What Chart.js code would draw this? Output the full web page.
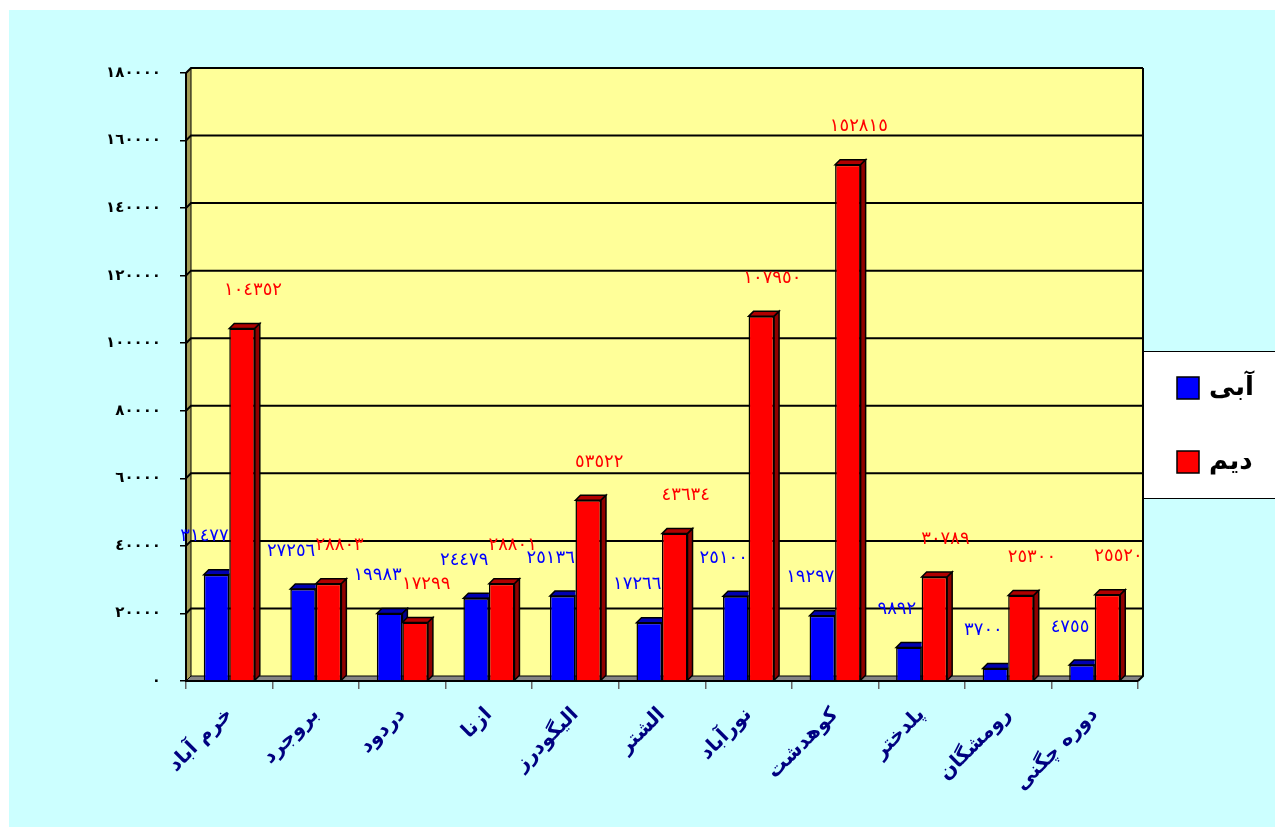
<!DOCTYPE html>
<html>
<head>
<meta charset="utf-8">
<script src="https://cdn.jsdelivr.net/npm/chart.js@4.4.0/dist/chart.umd.min.js"></script>
<style>
  html, body { margin: 0; padding: 0; background: #fff; }
  #wrap { position: absolute; left: 9px; top: 10px; width: 1266px; height: 817px; background: #ccffff; overflow: hidden; }
  canvas { display: block; }
</style>
</head>
<body>
<div id="wrap"><canvas id="chart-tolid" width="1266" height="817"></canvas></div>
<script>
// شهرستان‌ها و مقادیر (آبی / دیم)
const shahrestanha = ['خرم آباد', 'بروجرد', 'دردود', 'ازنا', 'الیگودرز', 'الشتر', 'نورآباد', 'کوهدشت', 'پلدختر', 'رومشگان', 'دوره چگنی'];
const abi = [31477, 27256, 19983, 24479, 25136, 17266, 25100, 19297, 9892, 3700, 4755];
const deym = [104352, 28803, 17299, 28801, 53522, 43634, 107950, 152815, 30789, 25300, 25520];
const seriesNames = ['آبی', 'دیم'];
const yTicks = [0, 20000, 40000, 60000, 80000, 100000, 120000, 140000, 160000, 180000];

const FONT = "'DejaVu Sans', sans-serif";
const DEPTH = 5;
const faceColors = [
    { front: '#0000ff', top: '#0000b0', side: '#000090' },
    { front: '#ff0000', top: '#b00000', side: '#900000' }
];

function faDigits(n) {
    return String(n).replace(/\d/g, d => '٠١٢٣٤٥٦٧٨٩'[d]);
}

function drawPoly(ctx, pts, fill) {
    ctx.beginPath();
    ctx.moveTo(pts[0][0], pts[0][1]);
    for (let i = 1; i < pts.length; i++) ctx.lineTo(pts[i][0], pts[i][1]);
    ctx.closePath();
    ctx.fillStyle = fill;
    ctx.fill();
    ctx.stroke();
}

function drawBox(ctx, bar, colors) {
    const { x, y, base, width } = bar.getProps(['x', 'y', 'base', 'width'], true);
    const l = x - width / 2, r = x + width / 2, d = DEPTH;
    drawPoly(ctx, [[l, y], [l + d, y - d], [r + d, y - d], [r, y]], colors.top);
    drawPoly(ctx, [[r, y], [r + d, y - d], [r + d, base - d], [r, base]], colors.side);
}

// دیوار پشتی، دیوار چپ، کف و خطوط شبکه
const walls3d = {
    id: 'walls3d',
    beforeDatasetsDraw(chart) {
        const { ctx, chartArea: a, scales: { y } } = chart;
        const d = DEPTH;
        ctx.save();
        ctx.lineJoin = 'miter';
        ctx.strokeStyle = '#000';
        ctx.lineWidth = 1;
        ctx.fillStyle = '#ffff99';
        ctx.fillRect(a.left + d, a.top - d, a.right - a.left, a.bottom - a.top);
        drawPoly(ctx, [[a.left, a.top], [a.left + d, a.top - d], [a.left + d, a.bottom - d], [a.left, a.bottom]], '#a39d55');
        drawPoly(ctx, [[a.left, a.bottom], [a.left + d, a.bottom - d], [a.right + d, a.bottom - d], [a.right, a.bottom]], '#858585');

        ctx.lineWidth = 2;
        yTicks.forEach(v => {
            if (v === 0) return;
            const py = y.getPixelForValue(v);
            ctx.beginPath();
            ctx.moveTo(a.left, py);
            ctx.lineTo(a.left + d, py - d);
            ctx.lineTo(a.right + d, py - d);
            ctx.stroke();
        });
        ctx.beginPath();
        ctx.moveTo(a.right + d, a.top - d);
        ctx.lineTo(a.right + d, a.bottom - d);
        ctx.lineTo(a.right, a.bottom);
        ctx.stroke();
        ctx.beginPath();
        ctx.moveTo(a.left, a.top);
        ctx.lineTo(a.left, a.bottom);
        ctx.lineTo(a.right, a.bottom);
        ctx.stroke();
        ctx.restore();
    },
    afterDatasetsDraw(chart) {
        const { ctx } = chart;
        const blue = chart.getDatasetMeta(0).data;
        const red = chart.getDatasetMeta(1).data;
        ctx.save();
        ctx.strokeStyle = '#000';
        ctx.lineWidth = 1.5;
        blue.forEach((b, i) => {
            const rb = red[i].getProps(['x', 'y', 'base', 'width'], true);
            ctx.save();
            ctx.beginPath();
            ctx.rect(0, 0, chart.width, chart.height);
            ctx.rect(rb.x - rb.width / 2, rb.y, rb.width, rb.base - rb.y);
            ctx.clip('evenodd');
            drawBox(ctx, b, faceColors[0]);
            ctx.restore();
            drawBox(ctx, red[i], faceColors[1]);
        });

        // برچسب مقادیر
        ctx.font = '18px ' + FONT;
        ctx.textAlign = 'center';
        ctx.textBaseline = 'middle';
        chart.data.datasets.forEach((ds, di) => {
            chart.getDatasetMeta(di).data.forEach((bar, i) => {
                ctx.fillStyle = ds.labelColor;
                ctx.fillText(faDigits(ds.data[i]), bar.x + ds.labelShift, bar.y - 38);
            });
        });
        ctx.restore();
    },
    afterDraw(chart) {
        const { ctx, chartArea: a } = chart;
        const left = a.right + DEPTH;
        const top = 341, h = 147;
        ctx.save();
        ctx.fillStyle = '#fff';
        ctx.fillRect(left, top, chart.width - left + 2, h);
        ctx.strokeStyle = '#000';
        ctx.lineWidth = 1;
        ctx.strokeRect(left + 0.5, top + 0.5, chart.width - left + 2, h);
        ctx.font = 'bold 26px ' + FONT;
        ctx.textAlign = 'left';
        ctx.textBaseline = 'middle';
        chart.data.datasets.forEach((ds, i) => {
            const cy = top + 37 + i * 74;
            ctx.fillStyle = ds.backgroundColor;
            ctx.fillRect(left + 34, cy - 11, 22, 22);
            ctx.lineWidth = 1.5;
            ctx.strokeRect(left + 34, cy - 11, 22, 22);
            ctx.fillStyle = '#000';
            ctx.fillText(ds.label, left + 66, cy);
        });
        ctx.restore();
    }
};

const ctx = document.getElementById('chart-tolid');
new Chart(ctx, {
    type: 'bar',
    data: {
        labels: shahrestanha,
        datasets: [
            { label: seriesNames[0], data: abi, backgroundColor: '#0000ff', borderColor: '#000', borderWidth: 1.5, labelColor: '#0000ff', labelShift: -12 },
            { label: seriesNames[1], data: deym, backgroundColor: '#ff0000', borderColor: '#000', borderWidth: 1.5, labelColor: '#ff0000', labelShift: 11 }
        ]
    },
    options: {
        responsive: false,
        animation: false,
        devicePixelRatio: 1,
        layout: { padding: { top: 63, right: 137, bottom: 0, left: 0 } },
        plugins: {
            legend: { display: false },
            tooltip: { enabled: false }
        },
        datasets: {
            bar: { categoryPercentage: 0.59, barPercentage: 1.0 }
        },
        scales: {
            x: {
                grid: { drawOnChartArea: false, tickLength: 8, color: '#666', lineWidth: 1.5 },
                border: { display: false },
                ticks: {
                    autoSkip: false, minRotation: 45, maxRotation: 45, padding: 14,
                    color: '#000080', font: { family: FONT, size: 20, weight: 'bold' }
                },
                afterFit(scale) { scale.height = 146; }
            },
            y: {
                min: 0, max: 180000,
                grid: { drawOnChartArea: false, tickLength: 6, color: '#000', lineWidth: 1.5 },
                border: { display: false },
                ticks: {
                    stepSize: 20000, padding: 19, color: '#000',
                    font: { family: FONT, size: 15, weight: 'bold' },
                    callback: v => faDigits(v)
                },
                afterFit(scale) { scale.width = 177; }
            }
        }
    },
    plugins: [walls3d]
});
</script>
</body>
</html>
